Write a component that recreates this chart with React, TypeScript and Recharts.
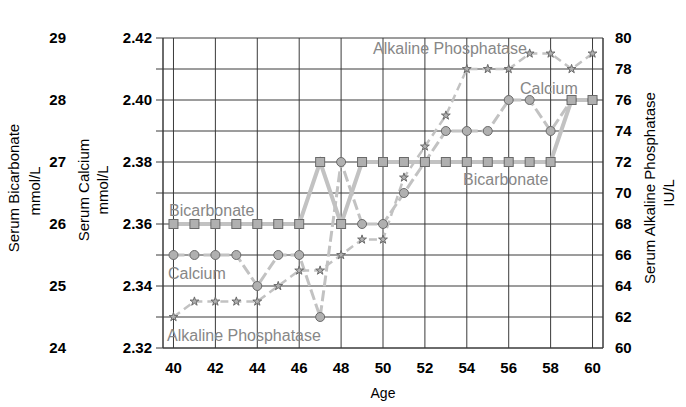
import React from 'react';
import { LineChart, Line, XAxis, YAxis, CartesianGrid, Symbols } from 'recharts';

const ages = [40, 41, 42, 43, 44, 45, 46, 47, 48, 49, 50, 51, 52, 53, 54, 55, 56, 57, 58, 59, 60];
const bicarbonate = [26, 26, 26, 26, 26, 26, 26, 27, 26, 27, 27, 27, 27, 27, 27, 27, 27, 27, 27, 28, 28];
const calcium = [2.35, 2.35, 2.35, 2.35, 2.34, 2.35, 2.35, 2.33, 2.38, 2.36, 2.36, 2.37, 2.38, 2.39, 2.39, 2.39, 2.4, 2.4, 2.39, 2.4, 2.4];
const alkalinePhosphatase = [62, 63, 63, 63, 63, 64, 65, 65, 66, 67, 67, 71, 73, 75, 78, 78, 78, 79, 79, 78, 79];

const ageTicks = [40, 42, 44, 46, 48, 50, 52, 54, 56, 58, 60];
const calciumTicks = [2.32, 2.33, 2.34, 2.35, 2.36, 2.37, 2.38, 2.39, 2.4, 2.41, 2.42];
const bicarbonateTicks = [24, 25, 26, 27, 28, 29];
const alpTicks = [60, 62, 64, 66, 68, 70, 72, 74, 76, 78, 80];

const data = ages.map((age, i) => ({
  age,
  bicarbonate: bicarbonate[i],
  calcium: calcium[i],
  alp: alkalinePhosphatase[i],
}));

const FONT = '"Liberation Sans", Arial, sans-serif';
const tickStyle = { fill: '#000', fontSize: 15, fontWeight: 'bold', fontFamily: FONT };
const LINE = '#c2c2c2';
const MFILL = '#b0b0b0';
const MSTROKE = '#6a6a6a';

const SquareDot = (props: any) => {
  const { cx, cy, index } = props;
  if (cx == null || cy == null) return <g key={`s${index}`} />;
  return <rect key={`s${index}`} x={cx - 4.5} y={cy - 4.5} width={9} height={9} fill={MFILL} stroke={MSTROKE} strokeWidth={1} />;
};
const CircleDot = (props: any) => {
  const { cx, cy, index } = props;
  if (cx == null || cy == null) return <g key={`c${index}`} />;
  return <circle key={`c${index}`} cx={cx} cy={cy} r={4.5} fill={MFILL} stroke={MSTROKE} strokeWidth={1} />;
};
const StarDot = (props: any) => {
  const { cx, cy, index } = props;
  if (cx == null || cy == null) return <g key={`t${index}`} />;
  return <Symbols key={`t${index}`} cx={cx} cy={cy} type="star" size={24} fill={MFILL} stroke={MSTROKE} strokeWidth={1} />;
};

const RotText = ({ x, y, children }: any) => (
  <text
    transform={`translate(${x},${y}) rotate(-90)`}
    textAnchor="middle"
    dominantBaseline="central"
    fontFamily={FONT}
    fontSize={15}
    fill="#000"
  >
    {children}
  </text>
);

const Note = ({ x, y, children }: any) => (
  <text x={x} y={y} dominantBaseline="central" fontFamily={FONT} fontSize={16} fill="#878787">
    {children}
  </text>
);

export default function App() {
  return (
    <div style={{ position: 'absolute', left: 0, top: 0, width: 686, height: 407, background: '#fff' }}>
      <LineChart width={686} height={407} data={data} margin={{ top: 38, right: 43, bottom: 29, left: 43 }}>
        <CartesianGrid yAxisId="a_ca" stroke="#3a3a3a" strokeWidth={1} />
        <XAxis
          dataKey="age"
          type="number"
          domain={[39.5, 60.5]}
          ticks={ageTicks}
          interval={0}
          tickLine={false}
          tickSize={0}
          tickMargin={14}
          axisLine={{ stroke: '#3a3a3a' }}
          tick={tickStyle}
          height={30}
        />
        <YAxis
          yAxisId="a_ca"
          orientation="left"
          domain={[2.32, 2.42]}
          ticks={calciumTicks}
          interval={0}
          width={60}
          tickSize={7}
          tickMargin={4}
          tickLine={{ stroke: '#3a3a3a' }}
          axisLine={{ stroke: '#3a3a3a' }}
          tick={tickStyle}
          tickFormatter={(v: number, i: number) => (i % 2 === 0 ? v.toFixed(2) : '')}
          allowDataOverflow
        />
        <YAxis
          yAxisId="b_bi"
          orientation="left"
          domain={[24, 29]}
          ticks={bicarbonateTicks}
          interval={0}
          width={60}
          tickSize={0}
          tickMargin={37}
          tickLine={false}
          axisLine={false}
          tick={tickStyle}
          allowDataOverflow
        />
        <YAxis
          yAxisId="c_alp"
          orientation="right"
          domain={[60, 80]}
          ticks={alpTicks}
          interval={0}
          width={40}
          tickSize={0}
          tickMargin={12}
          tickLine={false}
          axisLine={{ stroke: '#3a3a3a' }}
          tick={tickStyle}
          allowDataOverflow
        />
        <Line
          yAxisId="c_alp"
          dataKey="alp"
          stroke={LINE}
          strokeWidth={2.5}
          strokeDasharray="8 5"
          dot={StarDot}
          activeDot={false}
          isAnimationActive={false}
        />
        <Line
          yAxisId="a_ca"
          dataKey="calcium"
          stroke={LINE}
          strokeWidth={3}
          strokeDasharray="11 4"
          dot={CircleDot}
          activeDot={false}
          isAnimationActive={false}
        />
        <Line
          yAxisId="b_bi"
          dataKey="bicarbonate"
          stroke={LINE}
          strokeWidth={4}
          dot={SquareDot}
          activeDot={false}
          isAnimationActive={false}
        />
        <g>
          <Note x={169} y={210}>Bicarbonate</Note>
          <Note x={168} y={273}>Calcium</Note>
          <Note x={167} y={335}>Alkaline Phosphatase</Note>
          <Note x={373} y={48}>Alkaline Phosphatase</Note>
          <Note x={520} y={88}>Calcium</Note>
          <Note x={463} y={179}>Bicarbonate</Note>
          <RotText x={13} y={188}>Serum Bicarbonate</RotText>
          <RotText x={34} y={191}>mmol/L</RotText>
          <RotText x={83} y={190}>Serum Calcium</RotText>
          <RotText x={102} y={190}>mmol/L</RotText>
          <RotText x={649} y={188}>Serum Alkaline Phosphatase</RotText>
          <RotText x={668} y={193}>IU/L</RotText>
          <text x={383} y={393} textAnchor="middle" dominantBaseline="central" fontFamily={FONT} fontSize={14} fill="#000">
            Age
          </text>
        </g>
      </LineChart>
    </div>
  );
}
